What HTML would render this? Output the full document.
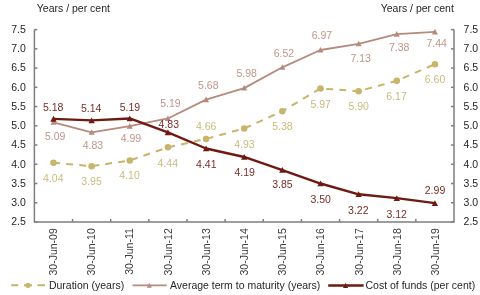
<!DOCTYPE html><html><head><meta charset="utf-8"><style>html,body{margin:0;padding:0;background:#fff;width:480px;height:295px;overflow:hidden}svg{display:block;will-change:transform}text{font-family:"Liberation Sans",sans-serif;font-size:10.5px}</style></head><body>
<svg width="480" height="295" viewBox="0 0 480 295">
<rect width="480" height="295" fill="#fff"/>
<text x="36.8" y="12" fill="#262626">Years / per cent</text>
<text x="453.9" y="12" text-anchor="end" fill="#262626">Years / per cent</text>
<g stroke="#7F7F7F" stroke-width="1.5" fill="none">
<path d="M34.40 29.60 V222.00 H454.00 V29.60"/>
<path d="M34.40 29.60 h3"/>
<path d="M454.00 29.60 h-3"/>
<path d="M34.40 48.84 h3"/>
<path d="M454.00 48.84 h-3"/>
<path d="M34.40 68.08 h3"/>
<path d="M454.00 68.08 h-3"/>
<path d="M34.40 87.32 h3"/>
<path d="M454.00 87.32 h-3"/>
<path d="M34.40 106.56 h3"/>
<path d="M454.00 106.56 h-3"/>
<path d="M34.40 125.80 h3"/>
<path d="M454.00 125.80 h-3"/>
<path d="M34.40 145.04 h3"/>
<path d="M454.00 145.04 h-3"/>
<path d="M34.40 164.28 h3"/>
<path d="M454.00 164.28 h-3"/>
<path d="M34.40 183.52 h3"/>
<path d="M454.00 183.52 h-3"/>
<path d="M34.40 202.76 h3"/>
<path d="M454.00 202.76 h-3"/>
<path d="M34.40 222.00 h3"/>
<path d="M454.00 222.00 h-3"/>
<path d="M72.55 222.00 v-3"/>
<path d="M110.69 222.00 v-3"/>
<path d="M148.84 222.00 v-3"/>
<path d="M186.98 222.00 v-3"/>
<path d="M225.13 222.00 v-3"/>
<path d="M263.27 222.00 v-3"/>
<path d="M301.42 222.00 v-3"/>
<path d="M339.56 222.00 v-3"/>
<path d="M377.71 222.00 v-3"/>
<path d="M415.85 222.00 v-3"/>
</g>
<text x="25.9" y="32.90" text-anchor="end" fill="#262626">7.5</text>
<text x="463.6" y="32.90" fill="#262626">7.5</text>
<text x="25.9" y="52.14" text-anchor="end" fill="#262626">7.0</text>
<text x="463.6" y="52.14" fill="#262626">7.0</text>
<text x="25.9" y="71.38" text-anchor="end" fill="#262626">6.5</text>
<text x="463.6" y="71.38" fill="#262626">6.5</text>
<text x="25.9" y="90.62" text-anchor="end" fill="#262626">6.0</text>
<text x="463.6" y="90.62" fill="#262626">6.0</text>
<text x="25.9" y="109.86" text-anchor="end" fill="#262626">5.5</text>
<text x="463.6" y="109.86" fill="#262626">5.5</text>
<text x="25.9" y="129.10" text-anchor="end" fill="#262626">5.0</text>
<text x="463.6" y="129.10" fill="#262626">5.0</text>
<text x="25.9" y="148.34" text-anchor="end" fill="#262626">4.5</text>
<text x="463.6" y="148.34" fill="#262626">4.5</text>
<text x="25.9" y="167.58" text-anchor="end" fill="#262626">4.0</text>
<text x="463.6" y="167.58" fill="#262626">4.0</text>
<text x="25.9" y="186.82" text-anchor="end" fill="#262626">3.5</text>
<text x="463.6" y="186.82" fill="#262626">3.5</text>
<text x="25.9" y="206.06" text-anchor="end" fill="#262626">3.0</text>
<text x="463.6" y="206.06" fill="#262626">3.0</text>
<text x="25.9" y="225.30" text-anchor="end" fill="#262626">2.5</text>
<text x="463.6" y="225.30" fill="#262626">2.5</text>
<text fill-opacity="1" transform="translate(56.87 228.2) rotate(-90)" text-anchor="end" fill="#3A3A3A">30-Jun-09</text>
<text fill-opacity="1" transform="translate(95.09 228.2) rotate(-90)" text-anchor="end" fill="#3A3A3A">30-Jun-10</text>
<text fill-opacity="1" transform="translate(133.30 228.2) rotate(-90)" text-anchor="end" fill="#3A3A3A">30-Jun-11</text>
<text fill-opacity="1" transform="translate(171.52 228.2) rotate(-90)" text-anchor="end" fill="#3A3A3A">30-Jun-12</text>
<text fill-opacity="1" transform="translate(209.73 228.2) rotate(-90)" text-anchor="end" fill="#3A3A3A">30-Jun-13</text>
<text fill-opacity="1" transform="translate(247.95 228.2) rotate(-90)" text-anchor="end" fill="#3A3A3A">30-Jun-14</text>
<text fill-opacity="1" transform="translate(286.17 228.2) rotate(-90)" text-anchor="end" fill="#3A3A3A">30-Jun-15</text>
<text fill-opacity="1" transform="translate(324.38 228.2) rotate(-90)" text-anchor="end" fill="#3A3A3A">30-Jun-16</text>
<text fill-opacity="1" transform="translate(362.60 228.2) rotate(-90)" text-anchor="end" fill="#3A3A3A">30-Jun-17</text>
<text fill-opacity="1" transform="translate(400.81 228.2) rotate(-90)" text-anchor="end" fill="#3A3A3A">30-Jun-18</text>
<text fill-opacity="1" transform="translate(439.03 228.2) rotate(-90)" text-anchor="end" fill="#3A3A3A">30-Jun-19</text>
<polyline points="53.47,162.74 91.62,166.20 129.76,160.43 167.91,147.35 206.05,138.88 244.20,128.49 282.35,111.18 320.49,88.47 358.64,91.17 396.78,80.78 434.93,64.23" fill="none" stroke="#C8B46B" stroke-width="2.0" stroke-dasharray="6.9 6.2" stroke-dashoffset="0.3"/>
<circle cx="53.47" cy="162.74" r="3.25" fill="#C8B46B"/>
<circle cx="91.62" cy="166.20" r="3.25" fill="#C8B46B"/>
<circle cx="129.76" cy="160.43" r="3.25" fill="#C8B46B"/>
<circle cx="167.91" cy="147.35" r="3.25" fill="#C8B46B"/>
<circle cx="206.05" cy="138.88" r="3.25" fill="#C8B46B"/>
<circle cx="244.20" cy="128.49" r="3.25" fill="#C8B46B"/>
<circle cx="282.35" cy="111.18" r="3.25" fill="#C8B46B"/>
<circle cx="320.49" cy="88.47" r="3.25" fill="#C8B46B"/>
<circle cx="358.64" cy="91.17" r="3.25" fill="#C8B46B"/>
<circle cx="396.78" cy="80.78" r="3.25" fill="#C8B46B"/>
<circle cx="434.93" cy="64.23" r="3.25" fill="#C8B46B"/>
<polyline points="53.47,122.34 91.62,132.34 129.76,126.18 167.91,118.49 206.05,99.63 244.20,88.09 282.35,67.31 320.49,49.99 358.64,43.84 396.78,34.22 434.93,31.91" fill="none" stroke="#B68A7C" stroke-width="1.8" stroke-linejoin="round"/>
<path d="M53.47 119.24 L56.47 124.84 L50.47 124.84 Z" fill="#B68A7C"/>
<path d="M91.62 129.24 L94.62 134.84 L88.62 134.84 Z" fill="#B68A7C"/>
<path d="M129.76 123.08 L132.76 128.68 L126.76 128.68 Z" fill="#B68A7C"/>
<path d="M167.91 115.39 L170.91 120.99 L164.91 120.99 Z" fill="#B68A7C"/>
<path d="M206.05 96.53 L209.05 102.13 L203.05 102.13 Z" fill="#B68A7C"/>
<path d="M244.20 84.99 L247.20 90.59 L241.20 90.59 Z" fill="#B68A7C"/>
<path d="M282.35 64.21 L285.35 69.81 L279.35 69.81 Z" fill="#B68A7C"/>
<path d="M320.49 46.89 L323.49 52.49 L317.49 52.49 Z" fill="#B68A7C"/>
<path d="M358.64 40.74 L361.64 46.34 L355.64 46.34 Z" fill="#B68A7C"/>
<path d="M396.78 31.12 L399.78 36.72 L393.78 36.72 Z" fill="#B68A7C"/>
<path d="M434.93 28.81 L437.93 34.41 L431.93 34.41 Z" fill="#B68A7C"/>
<polyline points="53.47,118.87 91.62,120.41 129.76,118.49 167.91,132.34 206.05,148.50 244.20,156.97 282.35,170.05 320.49,183.52 358.64,194.29 396.78,198.14 434.93,203.14" fill="none" stroke="#6E1911" stroke-width="2.4" stroke-linejoin="round"/>
<path d="M53.47 115.87 L56.67 121.67 L50.27 121.67 Z" fill="#6E1911"/>
<path d="M91.62 117.41 L94.82 123.21 L88.42 123.21 Z" fill="#6E1911"/>
<path d="M129.76 115.49 L132.96 121.29 L126.56 121.29 Z" fill="#6E1911"/>
<path d="M167.91 129.34 L171.11 135.14 L164.71 135.14 Z" fill="#6E1911"/>
<path d="M206.05 145.50 L209.25 151.30 L202.85 151.30 Z" fill="#6E1911"/>
<path d="M244.20 153.97 L247.40 159.77 L241.00 159.77 Z" fill="#6E1911"/>
<path d="M282.35 167.05 L285.55 172.85 L279.15 172.85 Z" fill="#6E1911"/>
<path d="M320.49 180.52 L323.69 186.32 L317.29 186.32 Z" fill="#6E1911"/>
<path d="M358.64 191.29 L361.84 197.09 L355.44 197.09 Z" fill="#6E1911"/>
<path d="M396.78 195.14 L399.98 200.94 L393.58 200.94 Z" fill="#6E1911"/>
<path d="M434.93 200.14 L438.13 205.94 L431.73 205.94 Z" fill="#6E1911"/>
<text x="53.30" y="182.21" text-anchor="middle" fill="#CABA7E">4.04</text>
<text x="91.50" y="185.01" text-anchor="middle" fill="#CABA7E">3.95</text>
<text x="129.50" y="179.21" text-anchor="middle" fill="#CABA7E">4.10</text>
<text x="167.80" y="166.96" text-anchor="middle" fill="#CABA7E">4.44</text>
<text x="206.10" y="129.66" text-anchor="middle" fill="#CABA7E">4.66</text>
<text x="244.40" y="147.66" text-anchor="middle" fill="#CABA7E">4.93</text>
<text x="282.40" y="129.66" text-anchor="middle" fill="#CABA7E">5.38</text>
<text x="320.60" y="108.16" text-anchor="middle" fill="#CABA7E">5.97</text>
<text x="358.60" y="109.76" text-anchor="middle" fill="#CABA7E">5.90</text>
<text x="396.50" y="99.76" text-anchor="middle" fill="#CABA7E">6.17</text>
<text x="435.00" y="82.66" text-anchor="middle" fill="#CABA7E">6.60</text>
<text x="55.20" y="139.86" text-anchor="middle" fill="#C0968A">5.09</text>
<text x="92.90" y="149.36" text-anchor="middle" fill="#C0968A">4.83</text>
<text x="130.90" y="141.66" text-anchor="middle" fill="#C0968A">4.99</text>
<text x="170.40" y="107.06" text-anchor="middle" fill="#C0968A">5.19</text>
<text x="208.30" y="89.46" text-anchor="middle" fill="#C0968A">5.68</text>
<text x="246.70" y="76.76" text-anchor="middle" fill="#C0968A">5.98</text>
<text x="283.90" y="56.56" text-anchor="middle" fill="#C0968A">6.52</text>
<text x="321.90" y="38.86" text-anchor="middle" fill="#C0968A">6.97</text>
<text x="360.70" y="61.66" text-anchor="middle" fill="#C0968A">7.13</text>
<text x="399.20" y="51.36" text-anchor="middle" fill="#C0968A">7.38</text>
<text x="436.60" y="46.86" text-anchor="middle" fill="#C0968A">7.44</text>
<text x="53.20" y="111.06" text-anchor="middle" fill="#7A2C26">5.18</text>
<text x="91.10" y="111.56" text-anchor="middle" fill="#7A2C26">5.14</text>
<text x="129.90" y="110.96" text-anchor="middle" fill="#7A2C26">5.19</text>
<text x="168.80" y="128.46" text-anchor="middle" fill="#7A2C26">4.83</text>
<text x="206.30" y="167.96" text-anchor="middle" fill="#7A2C26">4.41</text>
<text x="244.60" y="176.16" text-anchor="middle" fill="#7A2C26">4.19</text>
<text x="282.40" y="188.36" text-anchor="middle" fill="#7A2C26">3.85</text>
<text x="320.70" y="202.76" text-anchor="middle" fill="#7A2C26">3.50</text>
<text x="358.30" y="213.76" text-anchor="middle" fill="#7A2C26">3.22</text>
<text x="396.70" y="218.06" text-anchor="middle" fill="#7A2C26">3.12</text>
<text x="435.00" y="194.46" text-anchor="middle" fill="#7A2C26">2.99</text>
<g>
<path d="M11.3 285.3 H18.3 M24 285.3 H32 M37.5 285.3 H45" stroke="#C8B46B" stroke-width="1.9"/>
<circle cx="28" cy="285.3" r="2.6" fill="#C8B46B"/>
<text x="48.9" y="289.1" fill="#262626">Duration (years)</text>
<path d="M132.5 285.3 H166.7" stroke="#B68A7C" stroke-width="1.8"/>
<path d="M149.3 282.7 L151.8 287.7 H146.8Z" fill="#B68A7C"/>
<text x="170" y="289.1" fill="#262626">Average term to maturity (years)</text>
<path d="M328.2 285.6 H363.6" stroke="#6E1911" stroke-width="2.5"/>
<path d="M345.6 282.8 L348.2 288.1 H343.0Z" fill="#6E1911"/>
<text x="365.5" y="289.1" fill="#262626">Cost of funds (per cent)</text>
</g>
</svg></body></html>
